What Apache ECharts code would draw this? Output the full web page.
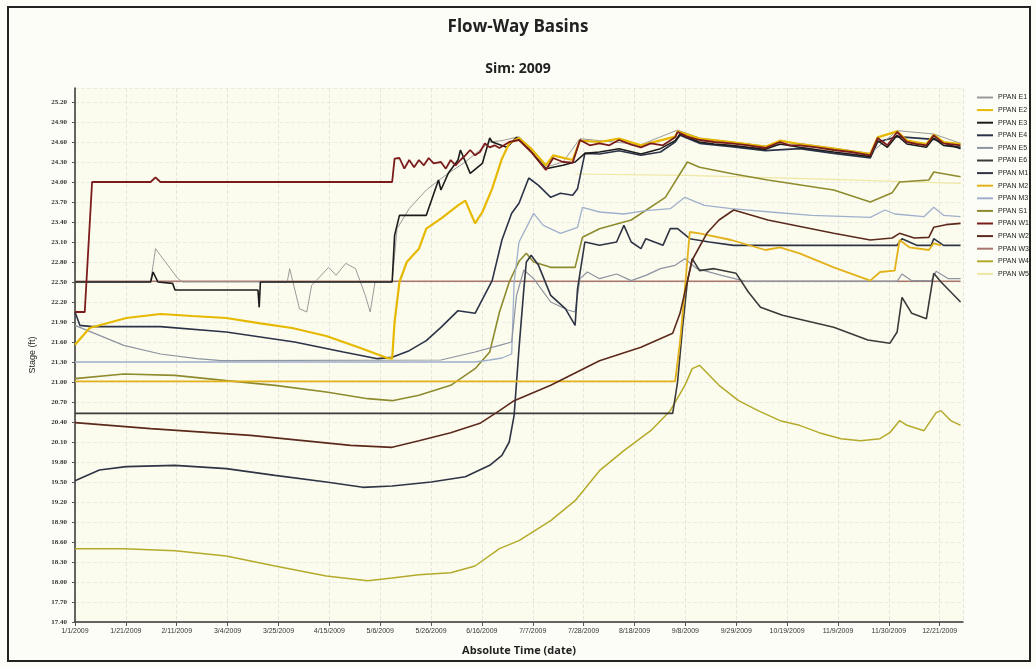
<!DOCTYPE html>
<html><head><meta charset="utf-8">
<script src="https://cdn.jsdelivr.net/npm/echarts@6/dist/echarts.min.js"></script>
<style>html,body{margin:0;padding:0;background:#fdfdf7}#c{width:1036px;height:668px}</style>
</head><body><div id="c"></div>
<script>
// x values: days since 1/1/2009 ; y values: stage (ft)
const xTickLabels = ['1/1/2009','1/21/2009','2/11/2009','3/4/2009','3/25/2009','4/15/2009','5/6/2009','5/26/2009','6/16/2009','7/7/2009','7/28/2009','8/18/2009','9/8/2009','9/29/2009','10/19/2009','11/9/2009','11/30/2009','12/21/2009'];
const seriesNames = ['PPAN E1','PPAN E2','PPAN E3','PPAN E4','PPAN E5','PPAN E6','PPAN M1','PPAN M2','PPAN M3','PPAN S1','PPAN W1','PPAN W2','PPAN W3','PPAN W4','PPAN W5'];

const ppanE1 = [[0,22.5],[31,22.5],[33,23.0],[35,22.9],[42,22.56],[44,22.5],[87,22.5],[88,22.7],[92,22.1],[95,22.05],[97,22.45],[104,22.72],[107,22.6],[111,22.78],[115,22.7],[119,22.3],[121,22.05],[123,22.5],[130,22.5],[132,23.3],[137,23.6],[144,23.88],[150,24.05],[155,24.18],[160,24.3],[165,24.45],[170,24.6],[175,24.62],[182,24.68],[187,24.5],[193,24.22],[200,24.3],[207,24.65],[215,24.62],[232,24.56],[247,24.78],[256,24.66],[283,24.54],[297,24.58],[326,24.43],[337,24.77],[352,24.72],[363,24.58]];
const ppanE2 = [[0,21.56],[6,21.81],[21,21.96],[35,22.02],[48,21.99],[62,21.96],[76,21.88],[89,21.81],[103,21.69],[117,21.51],[128,21.36],[130,21.35],[131,21.9],[133,22.5],[136,22.8],[139,22.92],[141,23.0],[144,23.3],[150,23.45],[157,23.65],[160,23.72],[164,23.38],[167,23.55],[171,23.9],[175,24.35],[178,24.58],[182,24.66],[187,24.5],[193,24.25],[196,24.4],[204,24.33],[207,24.62],[215,24.6],[223,24.65],[232,24.55],[246,24.68],[247,24.76],[256,24.65],[269,24.6],[283,24.53],[289,24.62],[297,24.57],[311,24.5],[326,24.42],[329,24.67],[337,24.76],[341,24.62],[349,24.57],[352,24.71],[356,24.6],[363,24.57]];
const ppanE3 = [[0,22.5],[31,22.5],[32,22.65],[34,22.5],[40,22.48],[41,22.38],[75,22.38],[75.5,22.12],[76,22.5],[130,22.5],[131,23.2],[133,23.5],[144,23.5],[149,24.03],[150,23.88],[153,24.13],[157,24.33],[158,24.48],[162,24.13],[167,24.28],[170,24.66],[171,24.6],[177,24.52],[181,24.67],[186,24.5],[193,24.2],[200,24.25],[205,24.3],[209,24.43],[215,24.45],[223,24.5],[232,24.42],[240,24.5],[246,24.62],[248,24.72],[256,24.6],[262,24.57],[269,24.55],[276,24.52],[283,24.49],[289,24.57],[297,24.52],[311,24.45],[326,24.38],[329,24.62],[333,24.52],[337,24.7],[341,24.57],[349,24.52],[352,24.66],[356,24.55],[363,24.52]];
const ppanE4 = [[0,22.05],[2,21.85],[7,21.83],[35,21.83],[62,21.75],[90,21.6],[110,21.45],[124,21.35],[130,21.37],[137,21.47],[144,21.62],[150,21.82],[157,22.07],[164,22.03],[171,22.52],[175,23.13],[179,23.53],[182,23.68],[186,24.06],[190,23.95],[195,23.77],[199,23.83],[204,23.8],[206,23.9],[209,24.43],[215,24.42],[223,24.47],[232,24.4],[240,24.45],[246,24.6],[248,24.7],[256,24.58],[269,24.53],[283,24.47],[297,24.5],[311,24.43],[326,24.36],[329,24.6],[337,24.68],[352,24.64],[363,24.5]];
const ppanE5 = [[0,21.85],[10,21.7],[20,21.55],[35,21.42],[50,21.35],[60,21.32],[150,21.33],[164,21.45],[174,21.55],[179,21.6],[181,22.3],[184,22.68],[188,22.55],[195,22.2],[202,22.08],[205,22.05],[207,22.55],[210,22.65],[215,22.55],[222,22.62],[228,22.52],[234,22.6],[240,22.7],[246,22.75],[250,22.85],[255,22.7],[265,22.6],[275,22.51],[337,22.51],[339,22.62],[343,22.52],[351,22.52],[353,22.66],[358,22.55],[363,22.55]];
const ppanE6 = [[0,20.53],[245,20.53],[247,21.0],[249,21.8],[251,22.5],[253,22.85],[256,22.67],[262,22.7],[271,22.63],[276,22.35],[281,22.12],[290,22.0],[311,21.82],[325,21.63],[334,21.58],[337,21.75],[339,22.27],[343,22.03],[349,21.95],[352,22.63],[355,22.5],[363,22.2]];
const ppanM1 = [[0,19.52],[10,19.68],[21,19.73],[41,19.75],[62,19.7],[82,19.6],[103,19.5],[118,19.42],[130,19.44],[146,19.5],[160,19.58],[170,19.75],[175,19.9],[178,20.1],[180,20.5],[182,21.5],[184,22.4],[185,22.8],[187,22.9],[190,22.75],[195,22.3],[201,22.1],[205,21.85],[206,22.4],[209,23.1],[215,23.05],[222,23.1],[225,23.35],[228,23.1],[232,23.0],[234,23.15],[241,23.05],[244,23.3],[247,23.3],[252,23.15],[260,23.1],[270,23.05],[337,23.05],[339,23.15],[345,23.05],[351,23.05],[352,23.15],[356,23.05],[363,23.05]];
const ppanM2 = [[0,21.01],[246,21.01],[248,21.6],[250,22.4],[252,23.25],[256,23.23],[269,23.13],[283,22.98],[289,23.02],[297,22.93],[311,22.72],[326,22.52],[330,22.65],[336,22.67],[338,23.13],[342,23.02],[350,22.98],[352,23.08],[355,23.05]];
const ppanM3 = [[0,21.3],[164,21.3],[170,21.33],[175,21.36],[179,21.42],[180,22.5],[182,23.1],[188,23.53],[192,23.35],[199,23.23],[206,23.32],[208,23.62],[215,23.55],[225,23.52],[234,23.57],[244,23.6],[250,23.77],[258,23.65],[269,23.6],[285,23.55],[302,23.5],[326,23.47],[332,23.58],[336,23.52],[348,23.48],[352,23.62],[356,23.5],[363,23.48]];
const ppanS1 = [[0,21.05],[20,21.12],[41,21.1],[62,21.02],[82,20.95],[103,20.85],[120,20.75],[130,20.72],[141,20.8],[154,20.95],[164,21.2],[170,21.45],[174,22.05],[178,22.5],[182,22.81],[185,22.93],[188,22.8],[195,22.72],[205,22.72],[208,23.17],[215,23.3],[228,23.43],[242,23.77],[251,24.3],[256,24.22],[270,24.12],[284,24.03],[311,23.88],[326,23.7],[335,23.84],[338,24.0],[350,24.03],[352,24.15],[363,24.08]];
const ppanW1 = [[0,22.05],[4,22.05],[7,24.0],[31,24.0],[33,24.07],[35,24.0],[130,24.0],[131,24.35],[133,24.36],[135,24.2],[137,24.33],[139,24.22],[141,24.33],[143,24.25],[145,24.36],[147,24.28],[150,24.3],[152,24.2],[154,24.33],[156,24.25],[158,24.33],[160,24.4],[162,24.48],[164,24.4],[166,24.45],[168,24.58],[170,24.52],[172,24.55],[174,24.51],[178,24.6],[182,24.63],[187,24.45],[193,24.18],[196,24.36],[200,24.3],[204,24.29],[207,24.63],[211,24.55],[215,24.58],[219,24.55],[223,24.63],[228,24.56],[232,24.52],[236,24.58],[241,24.55],[246,24.67],[247,24.75],[251,24.68],[256,24.63],[262,24.6],[269,24.58],[276,24.55],[283,24.51],[289,24.6],[293,24.55],[297,24.55],[304,24.52],[311,24.48],[318,24.45],[326,24.4],[329,24.66],[333,24.55],[337,24.75],[341,24.6],[345,24.57],[349,24.55],[352,24.7],[356,24.58],[363,24.55]];
const ppanW2 = [[0,20.39],[31,20.3],[72,20.2],[113,20.05],[130,20.02],[141,20.12],[154,20.24],[166,20.38],[174,20.57],[180,20.72],[195,20.95],[215,21.32],[232,21.52],[245,21.73],[248,22.03],[253,22.83],[259,23.23],[264,23.43],[270,23.58],[284,23.43],[311,23.23],[326,23.13],[335,23.16],[338,23.23],[344,23.16],[350,23.17],[352,23.32],[357,23.36],[363,23.38]];
const ppanW3 = [[0,22.51],[363,22.51]];
const ppanW4 = [[0,18.5],[20,18.5],[41,18.47],[62,18.39],[82,18.24],[103,18.09],[120,18.02],[130,18.06],[141,18.11],[154,18.14],[164,18.24],[174,18.5],[182,18.62],[195,18.92],[205,19.22],[215,19.67],[225,19.97],[236,20.27],[244,20.57],[250,20.95],[253,21.2],[256,21.25],[260,21.1],[264,20.95],[272,20.72],[280,20.57],[289,20.42],[297,20.35],[305,20.24],[314,20.15],[322,20.12],[330,20.15],[334,20.24],[338,20.42],[341,20.35],[348,20.27],[353,20.54],[355,20.57],[359,20.42],[363,20.35]];
const ppanW5 = [[205,24.12],[250,24.1],[300,24.05],[363,23.98]];

const seriesData = [ppanE1,ppanE2,ppanE3,ppanE4,ppanE5,ppanE6,ppanM1,ppanM2,ppanM3,ppanS1,ppanW1,ppanW2,ppanW3,ppanW4,ppanW5];
const seriesColors = ['#9a9a9a','#e6b800','#1c1c1c','#2b3349','#8d93a0','#3a3a3a','#2f3444','#e3b21a','#9fb0cc','#8e8a2e','#7b1c1c','#5c2a1c','#a8766a','#b4aa2a','#efe7a5'];
const seriesWidths = [1,2.2,1.6,1.6,1.2,1.6,1.6,1.8,1.3,1.6,1.8,1.6,1.5,1.5,1.2];
const drawOrder = [12,13,14,9,8,4,5,6,7,11,3,0,2,1,10];

const X_INTERVAL = 20.85;
const chart = echarts.init(document.getElementById('c'));
chart.setOption({
  backgroundColor:'#fdfdf7',
  animation:false,
  title:[
    {text:'Flow-Way Basins',left:'center',top:14,textStyle:{fontFamily:'Open Sans',fontSize:17,fontWeight:'bold',color:'#222'}},
    {text:'Sim: 2009',left:'center',top:57,textStyle:{fontFamily:'Open Sans',fontSize:14,fontWeight:'bold',color:'#222'}}
  ],
  graphic:[{type:'rect',shape:{x:8,y:7,width:1022,height:654},style:{fill:'none',stroke:'#222',lineWidth:2},silent:true}],
  legend:{
    orient:'vertical',left:972,top:88,itemWidth:16,itemHeight:2,itemGap:3.6,icon:'rect',
    data:seriesNames,
    textStyle:{fontFamily:'Liberation Sans',fontSize:7,lineHeight:9,color:'#222'}
  },
  grid:{left:75,right:73,top:88,bottom:46,show:true,backgroundColor:'#fcfcee',borderWidth:0},
  xAxis:{
    type:'value',min:0,max:364,interval:X_INTERVAL,
    name:'Absolute Time (date)',nameLocation:'middle',nameGap:23,
    nameTextStyle:{fontFamily:'Open Sans',fontSize:11,fontWeight:'bold',color:'#222'},
    axisLine:{lineStyle:{color:'#333',width:1.5}},
    axisTick:{length:4,lineStyle:{color:'#555'}},
    axisLabel:{showMaxLabel:false,fontFamily:'Liberation Sans',fontSize:7,color:'#333',margin:6,
      formatter:function(v){const i=Math.round(v/X_INTERVAL);return xTickLabels[i]||'';}},
    splitLine:{show:true,lineStyle:{color:'#e6e6e0',type:'dashed'}}
  },
  yAxis:{
    type:'value',min:17.4,max:25.41,interval:0.3,
    name:'Stage (ft)',nameLocation:'middle',nameGap:38,nameRotate:90,
    nameTextStyle:{fontFamily:'Liberation Sans',fontSize:9,color:'#222'},
    axisLine:{show:true,lineStyle:{color:'#333',width:1.5}},
    axisTick:{show:true,length:3,lineStyle:{color:'#555'}},
    axisLabel:{showMaxLabel:false,fontFamily:'Liberation Serif',fontSize:7,fontWeight:'bold',color:'#333',margin:8,
      formatter:function(v){return v.toFixed(2);}},
    splitLine:{show:true,lineStyle:{color:'#ecece6',type:'dashed'}}
  },
  series: drawOrder.map(function(i){return {
    name:seriesNames[i],type:'line',data:seriesData[i],showSymbol:false,symbol:'none',
    lineStyle:{color:seriesColors[i],width:seriesWidths[i]},itemStyle:{color:seriesColors[i]},z:2
  };})
});
</script></body></html>
